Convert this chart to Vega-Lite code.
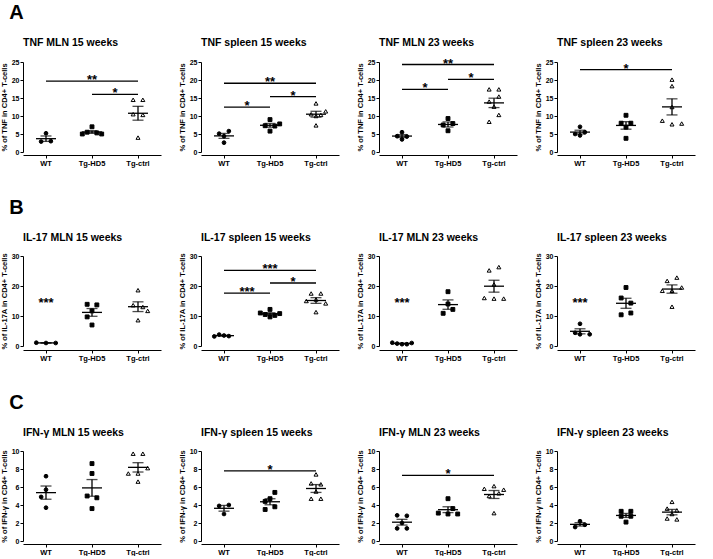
{
"$schema": "https://vega.github.io/schema/vega-lite/v6.json",
"background": "white",
"padding": {"left": 0, "top": 2, "right": 2, "bottom": 0},
"config": {
 "font": "Liberation Sans",
 "view": {"stroke": null},
 "axis": {"domainColor": "black", "tickColor": "black", "labelColor": "black", "titleColor": "black", "labelFontWeight": "bold", "titleFontWeight": "bold", "grid": false, "domainWidth": 1, "tickWidth": 1, "tickSize": 3, "labelFontSize": 7, "titleFontSize": 7.5},
 "axisX": {"labelAngle": 0, "labelFontSize": 7.5, "labelPadding": 1},
 "axisY": {"labelPadding": 1, "titlePadding": 3},
 "header": {"labelFontSize": 10.5, "labelFontWeight": "bold", "labelAnchor": "start", "labelPadding": 9, "labelColor": "black", "labelFont": "Liberation Sans"},
 "title": {"fontSize": 20, "fontWeight": "bold", "anchor": "start", "color": "black", "offset": 15, "dx": 9}
},
"datasets": {"d": [
 {"p":"TNF MLN 15 weeks","g":"WT","v":5.2,"r":3},{"p":"TNF MLN 15 weeks","g":"WT","v":2.9,"r":2},{"p":"TNF MLN 15 weeks","g":"WT","v":3.0,"r":4},
 {"p":"TNF MLN 15 weeks","g":"Tg-HD5","v":7.0,"r":3},{"p":"TNF MLN 15 weeks","g":"Tg-HD5","v":5.5,"r":2},{"p":"TNF MLN 15 weeks","g":"Tg-HD5","v":5.3,"r":4},{"p":"TNF MLN 15 weeks","g":"Tg-HD5","v":5.0,"r":1},{"p":"TNF MLN 15 weeks","g":"Tg-HD5","v":5.0,"r":5},
 {"p":"TNF MLN 15 weeks","g":"Tg-ctrl","v":14.5,"r":2},{"p":"TNF MLN 15 weeks","g":"Tg-ctrl","v":14.5,"r":4},{"p":"TNF MLN 15 weeks","g":"Tg-ctrl","v":10.5,"r":2},{"p":"TNF MLN 15 weeks","g":"Tg-ctrl","v":10.3,"r":4},{"p":"TNF MLN 15 weeks","g":"Tg-ctrl","v":4.0,"r":3},
 {"p":"TNF MLN 15 weeks","from":"WT","to":"Tg-ctrl","v":19.7,"lab":"**"},{"p":"TNF MLN 15 weeks","from":"Tg-HD5","to":"Tg-ctrl","v":16.0,"lab":"*"},

 {"p":"TNF spleen 15 weeks","g":"WT","v":5.8,"r":4},{"p":"TNF spleen 15 weeks","g":"WT","v":5.1,"r":2},{"p":"TNF spleen 15 weeks","g":"WT","v":4.4,"r":3},{"p":"TNF spleen 15 weeks","g":"WT","v":2.6,"r":3},
 {"p":"TNF spleen 15 weeks","g":"Tg-HD5","v":9.0,"r":3},{"p":"TNF spleen 15 weeks","g":"Tg-HD5","v":7.8,"r":5},{"p":"TNF spleen 15 weeks","g":"Tg-HD5","v":7.3,"r":2},{"p":"TNF spleen 15 weeks","g":"Tg-HD5","v":7.2,"r":4},{"p":"TNF spleen 15 weeks","g":"Tg-HD5","v":5.8,"r":3},
 {"p":"TNF spleen 15 weeks","g":"Tg-ctrl","v":13.5,"r":3},{"p":"TNF spleen 15 weeks","g":"Tg-ctrl","v":11.3,"r":5},{"p":"TNF spleen 15 weeks","g":"Tg-ctrl","v":10.5,"r":2},{"p":"TNF spleen 15 weeks","g":"Tg-ctrl","v":10.3,"r":4},{"p":"TNF spleen 15 weeks","g":"Tg-ctrl","v":10.0,"r":3},{"p":"TNF spleen 15 weeks","g":"Tg-ctrl","v":7.4,"r":3},
 {"p":"TNF spleen 15 weeks","from":"WT","to":"Tg-ctrl","v":19.1,"lab":"**"},{"p":"TNF spleen 15 weeks","from":"WT","to":"Tg-HD5","v":12.45,"lab":"*"},{"p":"TNF spleen 15 weeks","from":"Tg-HD5","to":"Tg-ctrl","v":15.4,"lab":"*"},

 {"p":"TNF MLN 23 weeks","g":"WT","v":5.5,"r":3},{"p":"TNF MLN 23 weeks","g":"WT","v":4.4,"r":2},{"p":"TNF MLN 23 weeks","g":"WT","v":4.3,"r":4},{"p":"TNF MLN 23 weeks","g":"WT","v":3.5,"r":3},
 {"p":"TNF MLN 23 weeks","g":"Tg-HD5","v":9.3,"r":3},{"p":"TNF MLN 23 weeks","g":"Tg-HD5","v":7.9,"r":4},{"p":"TNF MLN 23 weeks","g":"Tg-HD5","v":7.5,"r":2},{"p":"TNF MLN 23 weeks","g":"Tg-HD5","v":5.9,"r":3},
 {"p":"TNF MLN 23 weeks","g":"Tg-ctrl","v":17.4,"r":2},{"p":"TNF MLN 23 weeks","g":"Tg-ctrl","v":17.4,"r":4},{"p":"TNF MLN 23 weeks","g":"Tg-ctrl","v":15.4,"r":4},{"p":"TNF MLN 23 weeks","g":"Tg-ctrl","v":14.0,"r":2},{"p":"TNF MLN 23 weeks","g":"Tg-ctrl","v":12.6,"r":3},{"p":"TNF MLN 23 weeks","g":"Tg-ctrl","v":10.3,"r":4},{"p":"TNF MLN 23 weeks","g":"Tg-ctrl","v":8.4,"r":2},
 {"p":"TNF MLN 23 weeks","from":"WT","to":"Tg-ctrl","v":24.3,"lab":"**"},{"p":"TNF MLN 23 weeks","from":"WT","to":"Tg-HD5","v":17.4,"lab":"*"},{"p":"TNF MLN 23 weeks","from":"Tg-HD5","to":"Tg-ctrl","v":20.2,"lab":"*"},

 {"p":"TNF spleen 23 weeks","g":"WT","v":7.0,"r":3},{"p":"TNF spleen 23 weeks","g":"WT","v":5.5,"r":4},{"p":"TNF spleen 23 weeks","g":"WT","v":5.0,"r":2},{"p":"TNF spleen 23 weeks","g":"WT","v":4.6,"r":3},
 {"p":"TNF spleen 23 weeks","g":"Tg-HD5","v":10.2,"r":3},{"p":"TNF spleen 23 weeks","g":"Tg-HD5","v":8.0,"r":2},{"p":"TNF spleen 23 weeks","g":"Tg-HD5","v":8.0,"r":4},{"p":"TNF spleen 23 weeks","g":"Tg-HD5","v":6.9,"r":3},{"p":"TNF spleen 23 weeks","g":"Tg-HD5","v":3.8,"r":3},
 {"p":"TNF spleen 23 weeks","g":"Tg-ctrl","v":20.1,"r":3},{"p":"TNF spleen 23 weeks","g":"Tg-ctrl","v":18.3,"r":3},{"p":"TNF spleen 23 weeks","g":"Tg-ctrl","v":12.5,"r":3},{"p":"TNF spleen 23 weeks","g":"Tg-ctrl","v":8.7,"r":1},{"p":"TNF spleen 23 weeks","g":"Tg-ctrl","v":7.7,"r":3},{"p":"TNF spleen 23 weeks","g":"Tg-ctrl","v":7.9,"r":5},
 {"p":"TNF spleen 23 weeks","from":"WT","to":"Tg-ctrl","v":22.9,"lab":"*"},

 {"p":"IL-17 MLN 15 weeks","g":"WT","v":1.1,"r":1},{"p":"IL-17 MLN 15 weeks","g":"WT","v":1.0,"r":3},{"p":"IL-17 MLN 15 weeks","g":"WT","v":1.0,"r":5},
 {"p":"IL-17 MLN 15 weeks","g":"Tg-HD5","v":13.9,"r":2},{"p":"IL-17 MLN 15 weeks","g":"Tg-HD5","v":13.7,"r":4},{"p":"IL-17 MLN 15 weeks","g":"Tg-HD5","v":11.7,"r":3},{"p":"IL-17 MLN 15 weeks","g":"Tg-HD5","v":9.7,"r":2},{"p":"IL-17 MLN 15 weeks","g":"Tg-HD5","v":7.0,"r":3},
 {"p":"IL-17 MLN 15 weeks","g":"Tg-ctrl","v":18.6,"r":3},{"p":"IL-17 MLN 15 weeks","g":"Tg-ctrl","v":13.6,"r":2},{"p":"IL-17 MLN 15 weeks","g":"Tg-ctrl","v":13.0,"r":4},{"p":"IL-17 MLN 15 weeks","g":"Tg-ctrl","v":11.7,"r":5},{"p":"IL-17 MLN 15 weeks","g":"Tg-ctrl","v":8.6,"r":3},
 {"p":"IL-17 MLN 15 weeks","from":"WT","to":"WT","v":14,"lab":"***"},

 {"p":"IL-17 spleen 15 weeks","g":"WT","v":3.8,"r":2},{"p":"IL-17 spleen 15 weeks","g":"WT","v":3.5,"r":3},{"p":"IL-17 spleen 15 weeks","g":"WT","v":3.3,"r":4},{"p":"IL-17 spleen 15 weeks","g":"WT","v":3.2,"r":1},
 {"p":"IL-17 spleen 15 weeks","g":"Tg-HD5","v":12.2,"r":3},{"p":"IL-17 spleen 15 weeks","g":"Tg-HD5","v":11.0,"r":1},{"p":"IL-17 spleen 15 weeks","g":"Tg-HD5","v":10.8,"r":5},{"p":"IL-17 spleen 15 weeks","g":"Tg-HD5","v":10.5,"r":2},{"p":"IL-17 spleen 15 weeks","g":"Tg-HD5","v":10.2,"r":4},{"p":"IL-17 spleen 15 weeks","g":"Tg-HD5","v":9.7,"r":3},
 {"p":"IL-17 spleen 15 weeks","g":"Tg-ctrl","v":17.5,"r":2},{"p":"IL-17 spleen 15 weeks","g":"Tg-ctrl","v":17.5,"r":4},{"p":"IL-17 spleen 15 weeks","g":"Tg-ctrl","v":15.5,"r":3},{"p":"IL-17 spleen 15 weeks","g":"Tg-ctrl","v":15.0,"r":1},{"p":"IL-17 spleen 15 weeks","g":"Tg-ctrl","v":14.2,"r":5},{"p":"IL-17 spleen 15 weeks","g":"Tg-ctrl","v":11.3,"r":3},
 {"p":"IL-17 spleen 15 weeks","from":"WT","to":"Tg-ctrl","v":25.2,"lab":"***"},{"p":"IL-17 spleen 15 weeks","from":"WT","to":"Tg-HD5","v":17.6,"lab":"***"},{"p":"IL-17 spleen 15 weeks","from":"Tg-HD5","to":"Tg-ctrl","v":21.0,"lab":"*"},

 {"p":"IL-17 MLN 23 weeks","g":"WT","v":1.1,"r":1},{"p":"IL-17 MLN 23 weeks","g":"WT","v":0.8,"r":2},{"p":"IL-17 MLN 23 weeks","g":"WT","v":0.6,"r":3},{"p":"IL-17 MLN 23 weeks","g":"WT","v":0.6,"r":4},{"p":"IL-17 MLN 23 weeks","g":"WT","v":1.0,"r":5},
 {"p":"IL-17 MLN 23 weeks","g":"Tg-HD5","v":18.1,"r":3},{"p":"IL-17 MLN 23 weeks","g":"Tg-HD5","v":14.0,"r":3},{"p":"IL-17 MLN 23 weeks","g":"Tg-HD5","v":12.2,"r":4},{"p":"IL-17 MLN 23 weeks","g":"Tg-HD5","v":10.9,"r":2},
 {"p":"IL-17 MLN 23 weeks","g":"Tg-ctrl","v":26.3,"r":4},{"p":"IL-17 MLN 23 weeks","g":"Tg-ctrl","v":25.2,"r":2},{"p":"IL-17 MLN 23 weeks","g":"Tg-ctrl","v":20.5,"r":3},{"p":"IL-17 MLN 23 weeks","g":"Tg-ctrl","v":16.0,"r":1},{"p":"IL-17 MLN 23 weeks","g":"Tg-ctrl","v":15.8,"r":3},{"p":"IL-17 MLN 23 weeks","g":"Tg-ctrl","v":15.8,"r":5},
 {"p":"IL-17 MLN 23 weeks","from":"WT","to":"WT","v":14,"lab":"***"},

 {"p":"IL-17 spleen 23 weeks","g":"WT","v":7.4,"r":3},{"p":"IL-17 spleen 23 weeks","g":"WT","v":4.4,"r":2},{"p":"IL-17 spleen 23 weeks","g":"WT","v":3.9,"r":3},{"p":"IL-17 spleen 23 weeks","g":"WT","v":3.9,"r":5},
 {"p":"IL-17 spleen 23 weeks","g":"Tg-HD5","v":19.5,"r":3},{"p":"IL-17 spleen 23 weeks","g":"Tg-HD5","v":16.0,"r":2},{"p":"IL-17 spleen 23 weeks","g":"Tg-HD5","v":14.3,"r":4},{"p":"IL-17 spleen 23 weeks","g":"Tg-HD5","v":11.0,"r":4},{"p":"IL-17 spleen 23 weeks","g":"Tg-HD5","v":10.4,"r":2},
 {"p":"IL-17 spleen 23 weeks","g":"Tg-ctrl","v":22.8,"r":4},{"p":"IL-17 spleen 23 weeks","g":"Tg-ctrl","v":21.7,"r":2},{"p":"IL-17 spleen 23 weeks","g":"Tg-ctrl","v":19.5,"r":5},{"p":"IL-17 spleen 23 weeks","g":"Tg-ctrl","v":18.4,"r":1},{"p":"IL-17 spleen 23 weeks","g":"Tg-ctrl","v":18.4,"r":3},{"p":"IL-17 spleen 23 weeks","g":"Tg-ctrl","v":13.1,"r":3},
 {"p":"IL-17 spleen 23 weeks","from":"WT","to":"WT","v":14,"lab":"***"},

 {"p":"IFN-γ MLN 15 weeks","g":"WT","v":7.2,"r":3},{"p":"IFN-γ MLN 15 weeks","g":"WT","v":5.7,"r":3},{"p":"IFN-γ MLN 15 weeks","g":"WT","v":4.9,"r":2},{"p":"IFN-γ MLN 15 weeks","g":"WT","v":3.7,"r":3},
 {"p":"IFN-γ MLN 15 weeks","g":"Tg-HD5","v":8.6,"r":3},{"p":"IFN-γ MLN 15 weeks","g":"Tg-HD5","v":7.5,"r":3},{"p":"IFN-γ MLN 15 weeks","g":"Tg-HD5","v":5.0,"r":2},{"p":"IFN-γ MLN 15 weeks","g":"Tg-HD5","v":4.8,"r":4},{"p":"IFN-γ MLN 15 weeks","g":"Tg-HD5","v":3.6,"r":3},
 {"p":"IFN-γ MLN 15 weeks","g":"Tg-ctrl","v":9.7,"r":2},{"p":"IFN-γ MLN 15 weeks","g":"Tg-ctrl","v":9.7,"r":4},{"p":"IFN-γ MLN 15 weeks","g":"Tg-ctrl","v":8.1,"r":5},{"p":"IFN-γ MLN 15 weeks","g":"Tg-ctrl","v":7.5,"r":1},{"p":"IFN-γ MLN 15 weeks","g":"Tg-ctrl","v":7.5,"r":3},{"p":"IFN-γ MLN 15 weeks","g":"Tg-ctrl","v":6.6,"r":3},

 {"p":"IFN-γ spleen 15 weeks","g":"WT","v":4.0,"r":4},{"p":"IFN-γ spleen 15 weeks","g":"WT","v":3.9,"r":2},{"p":"IFN-γ spleen 15 weeks","g":"WT","v":3.0,"r":3},
 {"p":"IFN-γ spleen 15 weeks","g":"Tg-HD5","v":5.4,"r":4},{"p":"IFN-γ spleen 15 weeks","g":"Tg-HD5","v":4.7,"r":3},{"p":"IFN-γ spleen 15 weeks","g":"Tg-HD5","v":4.4,"r":2},{"p":"IFN-γ spleen 15 weeks","g":"Tg-HD5","v":3.8,"r":4},{"p":"IFN-γ spleen 15 weeks","g":"Tg-HD5","v":3.5,"r":2},
 {"p":"IFN-γ spleen 15 weeks","g":"Tg-ctrl","v":7.4,"r":3},{"p":"IFN-γ spleen 15 weeks","g":"Tg-ctrl","v":6.4,"r":2},{"p":"IFN-γ spleen 15 weeks","g":"Tg-ctrl","v":6.3,"r":4},{"p":"IFN-γ spleen 15 weeks","g":"Tg-ctrl","v":5.5,"r":3},{"p":"IFN-γ spleen 15 weeks","g":"Tg-ctrl","v":4.7,"r":2},{"p":"IFN-γ spleen 15 weeks","g":"Tg-ctrl","v":4.7,"r":4},
 {"p":"IFN-γ spleen 15 weeks","from":"WT","to":"Tg-ctrl","v":7.8,"lab":"*"},

 {"p":"IFN-γ MLN 23 weeks","g":"WT","v":2.85,"r":2},{"p":"IFN-γ MLN 23 weeks","g":"WT","v":2.8,"r":4},{"p":"IFN-γ MLN 23 weeks","g":"WT","v":2.0,"r":3},{"p":"IFN-γ MLN 23 weeks","g":"WT","v":1.4,"r":2},{"p":"IFN-γ MLN 23 weeks","g":"WT","v":1.4,"r":4},
 {"p":"IFN-γ MLN 23 weeks","g":"Tg-HD5","v":4.7,"r":3},{"p":"IFN-γ MLN 23 weeks","g":"Tg-HD5","v":3.6,"r":4},{"p":"IFN-γ MLN 23 weeks","g":"Tg-HD5","v":3.1,"r":1},{"p":"IFN-γ MLN 23 weeks","g":"Tg-HD5","v":3.0,"r":3},{"p":"IFN-γ MLN 23 weeks","g":"Tg-HD5","v":3.0,"r":5},
 {"p":"IFN-γ MLN 23 weeks","g":"Tg-ctrl","v":6.1,"r":3},{"p":"IFN-γ MLN 23 weeks","g":"Tg-ctrl","v":5.8,"r":1},{"p":"IFN-γ MLN 23 weeks","g":"Tg-ctrl","v":5.7,"r":5},{"p":"IFN-γ MLN 23 weeks","g":"Tg-ctrl","v":5.3,"r":4},{"p":"IFN-γ MLN 23 weeks","g":"Tg-ctrl","v":5.0,"r":2},{"p":"IFN-γ MLN 23 weeks","g":"Tg-ctrl","v":3.1,"r":3},
 {"p":"IFN-γ MLN 23 weeks","from":"WT","to":"Tg-ctrl","v":7.3,"lab":"*"},

 {"p":"IFN-γ spleen 23 weeks","g":"WT","v":2.2,"r":3},{"p":"IFN-γ spleen 23 weeks","g":"WT","v":1.8,"r":4},{"p":"IFN-γ spleen 23 weeks","g":"WT","v":1.55,"r":2},
 {"p":"IFN-γ spleen 23 weeks","g":"Tg-HD5","v":3.3,"r":2},{"p":"IFN-γ spleen 23 weeks","g":"Tg-HD5","v":3.3,"r":4},{"p":"IFN-γ spleen 23 weeks","g":"Tg-HD5","v":2.75,"r":2},{"p":"IFN-γ spleen 23 weeks","g":"Tg-HD5","v":2.75,"r":4},{"p":"IFN-γ spleen 23 weeks","g":"Tg-HD5","v":2.1,"r":3},
 {"p":"IFN-γ spleen 23 weeks","g":"Tg-ctrl","v":4.35,"r":3},{"p":"IFN-γ spleen 23 weeks","g":"Tg-ctrl","v":3.6,"r":2},{"p":"IFN-γ spleen 23 weeks","g":"Tg-ctrl","v":3.4,"r":4},{"p":"IFN-γ spleen 23 weeks","g":"Tg-ctrl","v":3.0,"r":3},{"p":"IFN-γ spleen 23 weeks","g":"Tg-ctrl","v":2.5,"r":2},{"p":"IFN-γ spleen 23 weeks","g":"Tg-ctrl","v":2.4,"r":4}
]},
"data": {"name": "d"},
"spacing": 30,
"vconcat": [
{
 "title": {"text": "A"},
 "transform": [{"filter": "test(/^TNF/, datum.p)"}],
 "facet": {"column": {"field": "p", "type": "nominal", "title": null, "sort": ["TNF MLN 15 weeks","TNF spleen 15 weeks","TNF MLN 23 weeks","TNF spleen 23 weeks"]}},
 "spacing": {"column": 17},
 "resolve": {"axis": {"y": "independent"}},
 "spec": {
  "width": 138, "height": 90,
  "encoding": {
   "x": {"field": "g", "type": "nominal", "title": null, "scale": {"domain": ["WT","Tg-HD5","Tg-ctrl"], "paddingInner": 0, "paddingOuter": 0}},
   "y": {"field": "v", "type": "quantitative", "title": "% of TNF in CD4+ T-cells", "scale": {"domain": [0,25], "nice": false}, "axis": {"values": [0,5,10,15,20,25]}}
  },
  "layer": [
   {"transform": [{"filter": "isValid(datum.g)"}], "mark": {"type": "point", "filled": true, "stroke": "black", "strokeWidth": 1, "opacity": 1},
    "encoding": {"xOffset": {"field": "r", "type": "nominal", "scale": {"domain": [1,2,3,4,5], "range": [13.3, 32.7], "paddingInner": 0, "paddingOuter": 0}},
     "shape": {"field": "g", "type": "nominal", "scale": {"domain": ["WT","Tg-HD5","Tg-ctrl"], "range": ["circle","square","triangle-up"]}, "legend": null},
     "fill": {"field": "g", "type": "nominal", "scale": {"domain": ["WT","Tg-HD5","Tg-ctrl"], "range": ["black","black","white"]}, "legend": null},
     "size": {"field": "g", "type": "ordinal", "scale": {"domain": ["WT","Tg-HD5","Tg-ctrl"], "range": [14,16,30]}, "legend": null}}},
   {"transform": [{"filter": "isValid(datum.g)"}], "mark": {"type": "errorbar", "extent": "stderr", "color": "black", "thickness": 1.3, "ticks": {"size": 11, "thickness": 1.3, "color": "black"}}},
   {"transform": [{"filter": "isValid(datum.g)"}], "mark": {"type": "tick", "color": "black", "size": 20, "thickness": 1.3},
    "encoding": {"y": {"aggregate": "mean", "field": "v", "type": "quantitative", "title": "% of TNF in CD4+ T-cells", "scale": {"domain": [0,25], "nice": false}}}},
   {"transform": [{"filter": "isValid(datum.lab) && datum.from != datum.to"}], "mark": {"type": "rule", "color": "black", "strokeWidth": 1.3},
    "encoding": {"x": {"field": "from", "type": "nominal", "title": null, "scale": {"domain": ["WT","Tg-HD5","Tg-ctrl"], "paddingInner": 0, "paddingOuter": 0}}, "x2": {"field": "to"}}},
   {"transform": [{"filter": "isValid(datum.lab) && datum.from != datum.to && !(datum.from == 'WT' && datum.to == 'Tg-ctrl')"}], "mark": {"type": "text", "fontSize": 13, "fontWeight": "bold", "baseline": "alphabetic", "dy": 3, "color": "black"},
    "encoding": {"x": {"field": "to", "type": "nominal", "title": null, "bandPosition": 0, "scale": {"domain": ["WT","Tg-HD5","Tg-ctrl"], "paddingInner": 0, "paddingOuter": 0}}, "text": {"field": "lab"}}},
   {"transform": [{"filter": "isValid(datum.lab) && datum.from == 'WT' && datum.to == 'Tg-ctrl'"}], "mark": {"type": "text", "fontSize": 13, "fontWeight": "bold", "baseline": "alphabetic", "dy": 3, "color": "black"},
    "encoding": {"x": {"field": "from", "type": "nominal", "title": null, "bandPosition": 1.5, "scale": {"domain": ["WT","Tg-HD5","Tg-ctrl"], "paddingInner": 0, "paddingOuter": 0}}, "text": {"field": "lab"}}},
   {"transform": [{"filter": "isValid(datum.lab) && datum.from == datum.to"}], "mark": {"type": "text", "fontSize": 13, "fontWeight": "bold", "baseline": "alphabetic", "dy": 3, "color": "black"},
    "encoding": {"x": {"field": "from", "type": "nominal", "title": null, "scale": {"domain": ["WT","Tg-HD5","Tg-ctrl"], "paddingInner": 0, "paddingOuter": 0}}, "text": {"field": "lab"}}}
  ]
 }
},
{
 "title": {"text": "B"},
 "transform": [{"filter": "test(/^IL/, datum.p)"}],
 "facet": {"column": {"field": "p", "type": "nominal", "title": null, "sort": ["IL-17 MLN 15 weeks","IL-17 spleen 15 weeks","IL-17 MLN 23 weeks","IL-17 spleen 23 weeks"]}},
 "spacing": {"column": 17},
 "resolve": {"axis": {"y": "independent"}},
 "spec": {
  "width": 138, "height": 90,
  "encoding": {
   "x": {"field": "g", "type": "nominal", "title": null, "scale": {"domain": ["WT","Tg-HD5","Tg-ctrl"], "paddingInner": 0, "paddingOuter": 0}},
   "y": {"field": "v", "type": "quantitative", "title": "% of IL-17A in CD4+ T-cells", "scale": {"domain": [0,30], "nice": false}, "axis": {"values": [0,10,20,30]}}
  },
  "layer": [
   {"transform": [{"filter": "isValid(datum.g)"}], "mark": {"type": "point", "filled": true, "stroke": "black", "strokeWidth": 1, "opacity": 1},
    "encoding": {"xOffset": {"field": "r", "type": "nominal", "scale": {"domain": [1,2,3,4,5], "range": [13.3, 32.7], "paddingInner": 0, "paddingOuter": 0}},
     "shape": {"field": "g", "type": "nominal", "scale": {"domain": ["WT","Tg-HD5","Tg-ctrl"], "range": ["circle","square","triangle-up"]}, "legend": null},
     "fill": {"field": "g", "type": "nominal", "scale": {"domain": ["WT","Tg-HD5","Tg-ctrl"], "range": ["black","black","white"]}, "legend": null},
     "size": {"field": "g", "type": "ordinal", "scale": {"domain": ["WT","Tg-HD5","Tg-ctrl"], "range": [14,16,30]}, "legend": null}}},
   {"transform": [{"filter": "isValid(datum.g)"}], "mark": {"type": "errorbar", "extent": "stderr", "color": "black", "thickness": 1.3, "ticks": {"size": 11, "thickness": 1.3, "color": "black"}}},
   {"transform": [{"filter": "isValid(datum.g)"}], "mark": {"type": "tick", "color": "black", "size": 20, "thickness": 1.3},
    "encoding": {"y": {"aggregate": "mean", "field": "v", "type": "quantitative", "title": "% of IL-17A in CD4+ T-cells", "scale": {"domain": [0,30], "nice": false}}}},
   {"transform": [{"filter": "isValid(datum.lab) && datum.from != datum.to"}], "mark": {"type": "rule", "color": "black", "strokeWidth": 1.3},
    "encoding": {"x": {"field": "from", "type": "nominal", "title": null, "scale": {"domain": ["WT","Tg-HD5","Tg-ctrl"], "paddingInner": 0, "paddingOuter": 0}}, "x2": {"field": "to"}}},
   {"transform": [{"filter": "isValid(datum.lab) && datum.from != datum.to && !(datum.from == 'WT' && datum.to == 'Tg-ctrl')"}], "mark": {"type": "text", "fontSize": 13, "fontWeight": "bold", "baseline": "alphabetic", "dy": 3, "color": "black"},
    "encoding": {"x": {"field": "to", "type": "nominal", "title": null, "bandPosition": 0, "scale": {"domain": ["WT","Tg-HD5","Tg-ctrl"], "paddingInner": 0, "paddingOuter": 0}}, "text": {"field": "lab"}}},
   {"transform": [{"filter": "isValid(datum.lab) && datum.from == 'WT' && datum.to == 'Tg-ctrl'"}], "mark": {"type": "text", "fontSize": 13, "fontWeight": "bold", "baseline": "alphabetic", "dy": 3, "color": "black"},
    "encoding": {"x": {"field": "from", "type": "nominal", "title": null, "bandPosition": 1.5, "scale": {"domain": ["WT","Tg-HD5","Tg-ctrl"], "paddingInner": 0, "paddingOuter": 0}}, "text": {"field": "lab"}}},
   {"transform": [{"filter": "isValid(datum.lab) && datum.from == datum.to"}], "mark": {"type": "text", "fontSize": 13, "fontWeight": "bold", "baseline": "alphabetic", "dy": 3, "color": "black"},
    "encoding": {"x": {"field": "from", "type": "nominal", "title": null, "scale": {"domain": ["WT","Tg-HD5","Tg-ctrl"], "paddingInner": 0, "paddingOuter": 0}}, "text": {"field": "lab"}}}
  ]
 }
},
{
 "title": {"text": "C"},
 "transform": [{"filter": "test(/^IFN/, datum.p)"}],
 "facet": {"column": {"field": "p", "type": "nominal", "title": null, "sort": ["IFN-γ MLN 15 weeks","IFN-γ spleen 15 weeks","IFN-γ MLN 23 weeks","IFN-γ spleen 23 weeks"]}},
 "spacing": {"column": 17},
 "resolve": {"axis": {"y": "independent"}},
 "spec": {
  "width": 138, "height": 90,
  "encoding": {
   "x": {"field": "g", "type": "nominal", "title": null, "scale": {"domain": ["WT","Tg-HD5","Tg-ctrl"], "paddingInner": 0, "paddingOuter": 0}},
   "y": {"field": "v", "type": "quantitative", "title": "% of IFN-γ in CD4+ T-cells", "scale": {"domain": [0,10], "nice": false}, "axis": {"values": [0,2,4,6,8,10]}}
  },
  "layer": [
   {"transform": [{"filter": "isValid(datum.g)"}], "mark": {"type": "point", "filled": true, "stroke": "black", "strokeWidth": 1, "opacity": 1},
    "encoding": {"xOffset": {"field": "r", "type": "nominal", "scale": {"domain": [1,2,3,4,5], "range": [13.3, 32.7], "paddingInner": 0, "paddingOuter": 0}},
     "shape": {"field": "g", "type": "nominal", "scale": {"domain": ["WT","Tg-HD5","Tg-ctrl"], "range": ["circle","square","triangle-up"]}, "legend": null},
     "fill": {"field": "g", "type": "nominal", "scale": {"domain": ["WT","Tg-HD5","Tg-ctrl"], "range": ["black","black","white"]}, "legend": null},
     "size": {"field": "g", "type": "ordinal", "scale": {"domain": ["WT","Tg-HD5","Tg-ctrl"], "range": [14,16,30]}, "legend": null}}},
   {"transform": [{"filter": "isValid(datum.g)"}], "mark": {"type": "errorbar", "extent": "stderr", "color": "black", "thickness": 1.3, "ticks": {"size": 11, "thickness": 1.3, "color": "black"}}},
   {"transform": [{"filter": "isValid(datum.g)"}], "mark": {"type": "tick", "color": "black", "size": 20, "thickness": 1.3},
    "encoding": {"y": {"aggregate": "mean", "field": "v", "type": "quantitative", "title": "% of IFN-γ in CD4+ T-cells", "scale": {"domain": [0,10], "nice": false}}}},
   {"transform": [{"filter": "isValid(datum.lab) && datum.from != datum.to"}], "mark": {"type": "rule", "color": "black", "strokeWidth": 1.3},
    "encoding": {"x": {"field": "from", "type": "nominal", "title": null, "scale": {"domain": ["WT","Tg-HD5","Tg-ctrl"], "paddingInner": 0, "paddingOuter": 0}}, "x2": {"field": "to"}}},
   {"transform": [{"filter": "isValid(datum.lab) && datum.from != datum.to && !(datum.from == 'WT' && datum.to == 'Tg-ctrl')"}], "mark": {"type": "text", "fontSize": 13, "fontWeight": "bold", "baseline": "alphabetic", "dy": 3, "color": "black"},
    "encoding": {"x": {"field": "to", "type": "nominal", "title": null, "bandPosition": 0, "scale": {"domain": ["WT","Tg-HD5","Tg-ctrl"], "paddingInner": 0, "paddingOuter": 0}}, "text": {"field": "lab"}}},
   {"transform": [{"filter": "isValid(datum.lab) && datum.from == 'WT' && datum.to == 'Tg-ctrl'"}], "mark": {"type": "text", "fontSize": 13, "fontWeight": "bold", "baseline": "alphabetic", "dy": 3, "color": "black"},
    "encoding": {"x": {"field": "from", "type": "nominal", "title": null, "bandPosition": 1.5, "scale": {"domain": ["WT","Tg-HD5","Tg-ctrl"], "paddingInner": 0, "paddingOuter": 0}}, "text": {"field": "lab"}}},
   {"transform": [{"filter": "isValid(datum.lab) && datum.from == datum.to"}], "mark": {"type": "text", "fontSize": 13, "fontWeight": "bold", "baseline": "alphabetic", "dy": 3, "color": "black"},
    "encoding": {"x": {"field": "from", "type": "nominal", "title": null, "scale": {"domain": ["WT","Tg-HD5","Tg-ctrl"], "paddingInner": 0, "paddingOuter": 0}}, "text": {"field": "lab"}}}
  ]
 }
}
]
}
